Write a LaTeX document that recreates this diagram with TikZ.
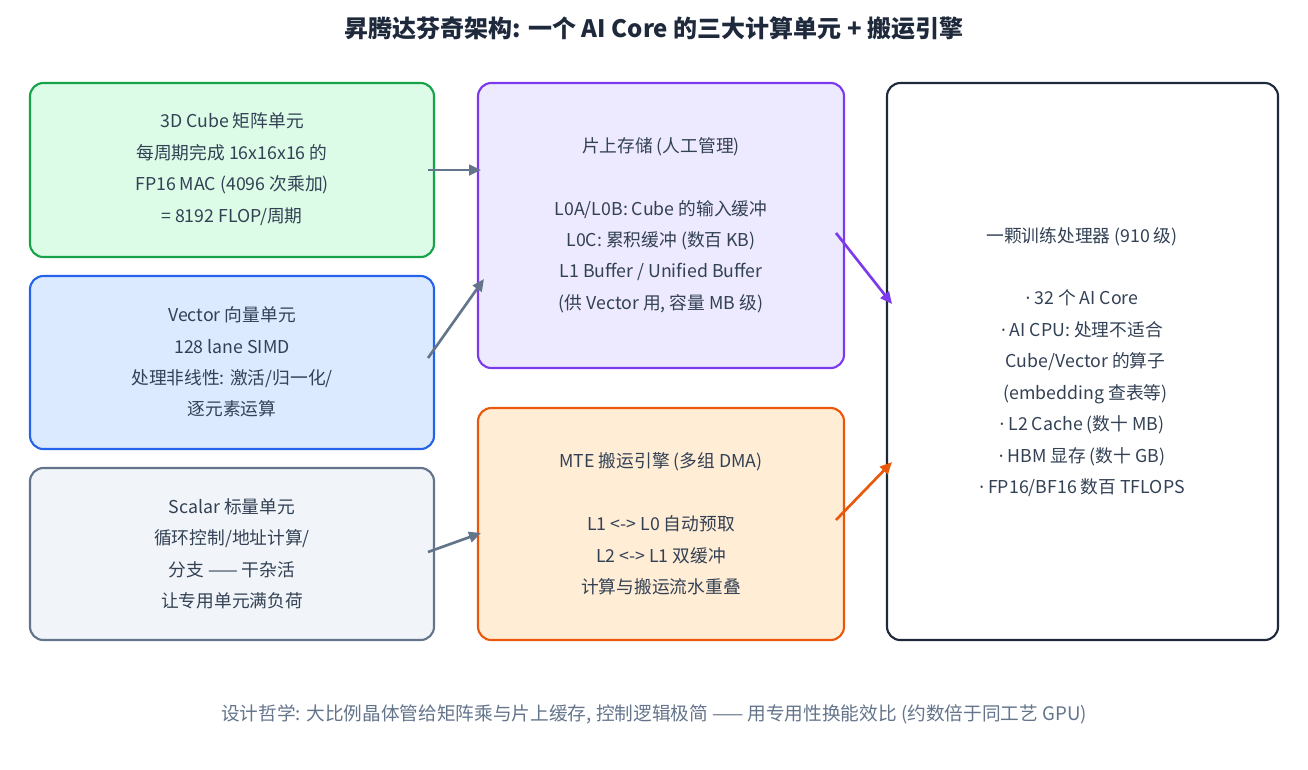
\documentclass[tikz,border=0pt]{standalone}
\usepackage{fontspec}
\setmainfont{Noto Sans CJK SC}
\newfontfamily\lat{Noto Sans}
\usetikzlibrary{arrows.meta}
\definecolor{gF}{HTML}{DCFCE7}\definecolor{gS}{HTML}{16A34A}
\definecolor{bF}{HTML}{DBEAFE}\definecolor{bS}{HTML}{2563EB}
\definecolor{sF}{HTML}{F1F5F9}\definecolor{sS}{HTML}{64748B}
\definecolor{pF}{HTML}{EDE9FE}\definecolor{pS}{HTML}{7C3AED}
\definecolor{oF}{HTML}{FFEDD5}\definecolor{oS}{HTML}{EA580C}
\definecolor{dS}{HTML}{1E293B}\definecolor{txt}{HTML}{334155}
\newcommand{\bul}{{\lat ·} }
\begin{document}
\begin{tikzpicture}[x=0.75pt,y=-0.75pt,
 box/.style={draw,line width=1.6pt,rounded corners=10pt},
 lab/.style={align=center,font=\fontsize{13.3}{23.6}\selectfont,text=txt},
 arr/.style={-{Triangle[length=9pt,width=8pt]},line width=2pt}]
\useasboundingbox (0,0) rectangle (1308,769);
\node[font=\bfseries\fontsize{18}{22}\selectfont,text=dS] (title) at (654,28) {昇腾达芬奇架构: 一个 AI Core 的三大计算单元 + 搬运引擎};
\draw[box,fill=gF,draw=gS] (30,83) rectangle (434,257);
\draw[box,fill=bF,draw=bS] (30,276) rectangle (434,449);
\draw[box,fill=sF,draw=sS] (30,468) rectangle (434,640);
\draw[box,fill=pF,draw=pS] (478,83) rectangle (844,368);
\draw[box,fill=oF,draw=oS] (478,408) rectangle (844,640);
\draw[box,fill=white,draw=dS] (887,83) rectangle (1278,640);
\node[lab] (cube) at (232,169) {3D Cube 矩阵单元\\每周期完成 16x16x16 的\\FP16 MAC (4096 次乘加)\\= 8192 FLOP/周期};
\node[lab] (vec) at (232,362) {Vector 向量单元\\128 lane SIMD\\处理非线性: 激活/归一化/\\逐元素运算};
\node[lab] (sca) at (232,554) {Scalar 标量单元\\循环控制/地址计算/\\分支 —— 干杂活\\让专用单元满负荷};
\node[lab] (mem) at (661,225) {片上存储 (人工管理)\\ \\L0A/L0B: Cube 的输入缓冲\\L0C: 累积缓冲 (数百 KB)\\L1 Buffer / Unified Buffer\\(供 Vector 用, 容量 MB 级)};
\node[lab] (mte) at (661,524) {MTE 搬运引擎 (多组 DMA)\\ \\L1 <-> L0 自动预取\\L2 <-> L1 双缓冲\\计算与搬运流水重叠};
\node[lab] (chip) at (1082,362) {一颗训练处理器 (910 级)\\ \\\bul 32 个 AI Core\\\bul AI CPU: 处理不适合\\\hspace*{0.4em}Cube/Vector 的算子\\\hspace*{0.4em}(embedding 查表等)\\\bul L2 Cache (数十 MB)\\\bul HBM 显存 (数十 GB)\\\bul FP16/BF16 数百 TFLOPS};
\coordinate (a1) at (428,170); \coordinate (b1) at (481,170);
\coordinate (a2) at (428,358); \coordinate (b2) at (484,279);
\coordinate (a3) at (428,552); \coordinate (b3) at (481,533);
\coordinate (a4) at (836,233); \coordinate (b4) at (892,304);
\coordinate (a5) at (836,520); \coordinate (b5) at (892,462);
\draw[arr,draw=sS] (a1)--(b1);
\draw[arr,draw=sS] (a2)--(b2);
\draw[arr,draw=sS] (a3)--(b3);
\draw[arr,draw=pS] (a4)--(b4);
\draw[arr,draw=oS] (a5)--(b5);
\node[font=\fontsize{14}{16}\selectfont,text=sS] (foot) at (654,714) {设计哲学: 大比例晶体管给矩阵乘与片上缓存, 控制逻辑极简 —— 用专用性换能效比 (约数倍于同工艺 GPU)};
\end{tikzpicture}
\end{document}
